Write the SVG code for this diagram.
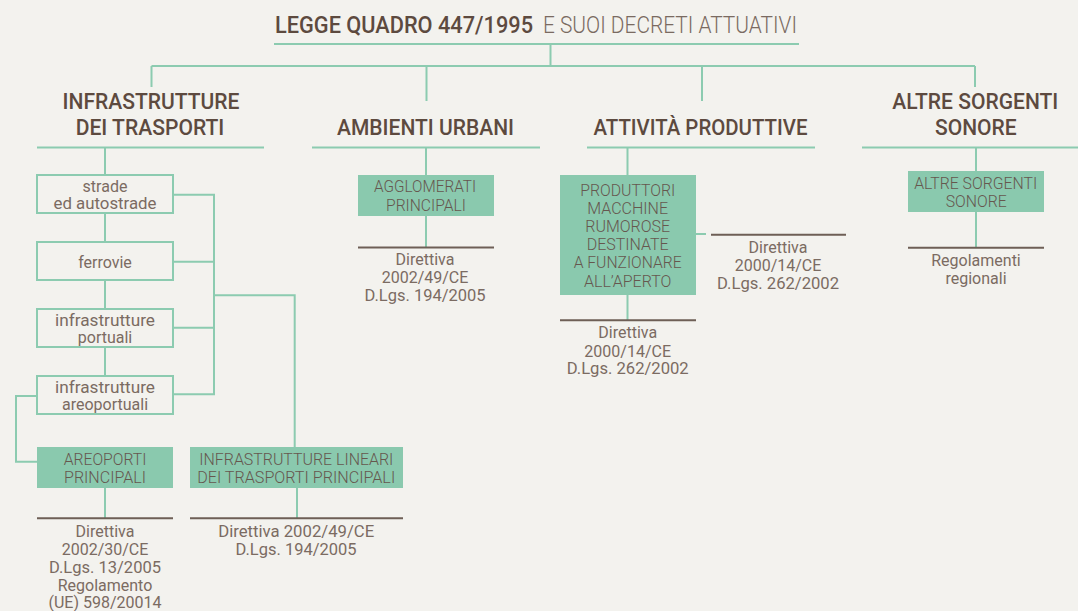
<svg xmlns="http://www.w3.org/2000/svg" width="1078" height="611" viewBox="0 0 1078 611">
<style>
.bg{fill:#f3f2ee}
.g{stroke:#8ccbb0;stroke-width:2;fill:none}
.b{stroke:#6e5f56;stroke-width:2;fill:none}
.box{fill:none;stroke:#8ccbb0;stroke-width:2}
.fbox{fill:#8ac9ae}
text{font-family:Roboto,"Liberation Sans",sans-serif;text-anchor:middle}
.h{font-size:22px;fill:#5d4a3f;font-weight:500}
.t1{font-size:23px;fill:#5d4a3f;font-weight:500;text-anchor:start}
.t2{font-size:23px;fill:#7a6a61;font-weight:300;text-anchor:start}
.s{font-size:16px;fill:#7b6b62}
.c{font-size:16px;fill:#66574e;font-weight:300}
.d{font-size:16px;fill:#7b6b62}
</style>
<rect class="bg" x="0" y="0" width="1078" height="611"/>

<g id="connectors">
<path class="g" d="M274 44H799M550.5 44V66M151.5 66H975M151.5 66V87M426.5 66V101M702 66V101M975 66V87"/>
<path class="g" d="M37 147.5H264M312 147.5H540M587 147.5H815M862 147.5H1078"/>
<path class="g" d="M105 147.5V175M105 213V242M105 280V309M105 347V376"/>
<path class="g" d="M173 194.7H214M173 261.7H214M173 327.7H214M173 394.3H214M214 193.7V395.3M214 295.3H294.7V447"/>
<path class="g" d="M37 396H16V461.7H37"/>
<path class="g" d="M105 488V518M297 488V518"/>
<path class="g" d="M426 147.5V175M426 216V247.5"/>
<path class="g" d="M627.5 147.5V175M627.5 295V320M696 234H706"/>
<path class="g" d="M976 147.5V171M976 212V247.5"/>
<path class="b" d="M37 518.3H173M190 518.3H403M358 247.5H494M711 234.7H846M560 320.3H696M908 247.7H1044"/>
</g>

<g id="title">
<text class="t1" x="275" y="32.5" textLength="258" lengthAdjust="spacingAndGlyphs">LEGGE QUADRO 447/1995</text>
<text class="t2" x="543" y="32.5" textLength="254" lengthAdjust="spacingAndGlyphs">E SUOI DECRETI ATTUATIVI</text>
</g>

<g id="h-infrastrutture">
<text class="h" x="151" y="108.7" textLength="177" lengthAdjust="spacingAndGlyphs">INFRASTRUTTURE</text>
<text class="h" x="150" y="134.5" textLength="148.6" lengthAdjust="spacingAndGlyphs">DEI TRASPORTI</text>
</g>
<g id="h-ambienti">
<text class="h" x="425.5" y="134.5" textLength="177" lengthAdjust="spacingAndGlyphs">AMBIENTI URBANI</text>
</g>
<g id="h-attivita">
<text class="h" x="700.5" y="134.5" textLength="214" lengthAdjust="spacingAndGlyphs">ATTIVITÀ PRODUTTIVE</text>
</g>
<g id="h-altre">
<text class="h" x="975.3" y="108.7" textLength="166" lengthAdjust="spacingAndGlyphs">ALTRE SORGENTI</text>
<text class="h" x="975.8" y="134.5" textLength="81.7" lengthAdjust="spacingAndGlyphs">SONORE</text>
</g>

<g id="n-strade">
<rect class="box" x="37" y="175" width="136" height="38"/>
<text class="s" x="105" y="192.3">strade</text>
<text class="s" x="105" y="209.3" textLength="103" lengthAdjust="spacingAndGlyphs">ed autostrade</text>
</g>
<g id="n-ferrovie">
<rect class="box" x="37" y="242" width="136" height="38"/>
<text class="s" x="105" y="267.5">ferrovie</text>
</g>
<g id="n-portuali">
<rect class="box" x="37" y="309" width="136" height="38"/>
<text class="s" x="105" y="326" textLength="100" lengthAdjust="spacingAndGlyphs">infrastrutture</text>
<text class="s" x="105" y="343.3">portuali</text>
</g>
<g id="n-areoportuali">
<rect class="box" x="37" y="376" width="136" height="38"/>
<text class="s" x="105" y="392.7" textLength="100" lengthAdjust="spacingAndGlyphs">infrastrutture</text>
<text class="s" x="105" y="410">areoportuali</text>
</g>

<g id="n-areoporti-principali">
<rect class="fbox" x="37" y="447" width="136" height="41"/>
<text class="c" x="105" y="465" textLength="82.7" lengthAdjust="spacingAndGlyphs">AREOPORTI</text>
<text class="c" x="105" y="483.3" textLength="82" lengthAdjust="spacingAndGlyphs">PRINCIPALI</text>
</g>
<g id="n-lineari">
<rect class="fbox" x="190" y="447" width="213" height="41"/>
<text class="c" x="296.3" y="465" textLength="194" lengthAdjust="spacingAndGlyphs">INFRASTRUTTURE LINEARI</text>
<text class="c" x="296.2" y="483.3" textLength="198" lengthAdjust="spacingAndGlyphs">DEI TRASPORTI PRINCIPALI</text>
</g>
<g id="t-areoporti">
<text class="d" x="105" y="536.7">Direttiva</text>
<text class="d" x="105" y="555">2002/30/CE</text>
<text class="d" x="105" y="573.3" textLength="112" lengthAdjust="spacingAndGlyphs">D.Lgs. 13/2005</text>
<text class="d" x="105" y="590.7">Regolamento</text>
<text class="d" x="105" y="608.3">(UE) 598/20014</text>
</g>
<g id="t-lineari">
<text class="d" x="296.2" y="536.7" textLength="156" lengthAdjust="spacingAndGlyphs">Direttiva 2002/49/CE</text>
<text class="d" x="296" y="555" textLength="121" lengthAdjust="spacingAndGlyphs">D.Lgs. 194/2005</text>
</g>

<g id="n-agglomerati">
<rect class="fbox" x="358" y="175" width="136" height="41"/>
<text class="c" x="425" y="192.3" textLength="102" lengthAdjust="spacingAndGlyphs">AGGLOMERATI</text>
<text class="c" x="426" y="210.7" textLength="80" lengthAdjust="spacingAndGlyphs">PRINCIPALI</text>
</g>
<g id="t-agglomerati">
<text class="d" x="425" y="265">Direttiva</text>
<text class="d" x="425" y="283">2002/49/CE</text>
<text class="d" x="425" y="300.5" textLength="121" lengthAdjust="spacingAndGlyphs">D.Lgs. 194/2005</text>
</g>

<g id="n-produttori">
<rect class="fbox" x="560" y="175" width="136" height="120"/>
<text class="c" x="627.7" y="195.7" textLength="95" lengthAdjust="spacingAndGlyphs">PRODUTTORI</text>
<text class="c" x="627.7" y="214">MACCHINE</text>
<text class="c" x="627.7" y="232">RUMOROSE</text>
<text class="c" x="627.7" y="250">DESTINATE</text>
<text class="c" x="627.7" y="268.3" textLength="108" lengthAdjust="spacingAndGlyphs">A FUNZIONARE</text>
<text class="c" x="627.7" y="286.7">ALL’APERTO</text>
</g>
<g id="t-produttori-right">
<text class="d" x="778" y="252.7">Direttiva</text>
<text class="d" x="778" y="271">2000/14/CE</text>
<text class="d" x="778" y="288.5" textLength="122" lengthAdjust="spacingAndGlyphs">D.Lgs. 262/2002</text>
</g>
<g id="t-produttori-below">
<text class="d" x="627.7" y="338.3">Direttiva</text>
<text class="d" x="627.7" y="356.7">2000/14/CE</text>
<text class="d" x="627.7" y="374.2" textLength="122" lengthAdjust="spacingAndGlyphs">D.Lgs. 262/2002</text>
</g>

<g id="n-altre-sorgenti">
<rect class="fbox" x="908" y="171" width="136" height="41"/>
<text class="c" x="975.7" y="189" textLength="123" lengthAdjust="spacingAndGlyphs">ALTRE SORGENTI</text>
<text class="c" x="976.2" y="206.7" textLength="61" lengthAdjust="spacingAndGlyphs">SONORE</text>
</g>
<g id="t-altre">
<text class="d" x="976" y="266">Regolamenti</text>
<text class="d" x="976" y="284">regionali</text>
</g>
</svg>
